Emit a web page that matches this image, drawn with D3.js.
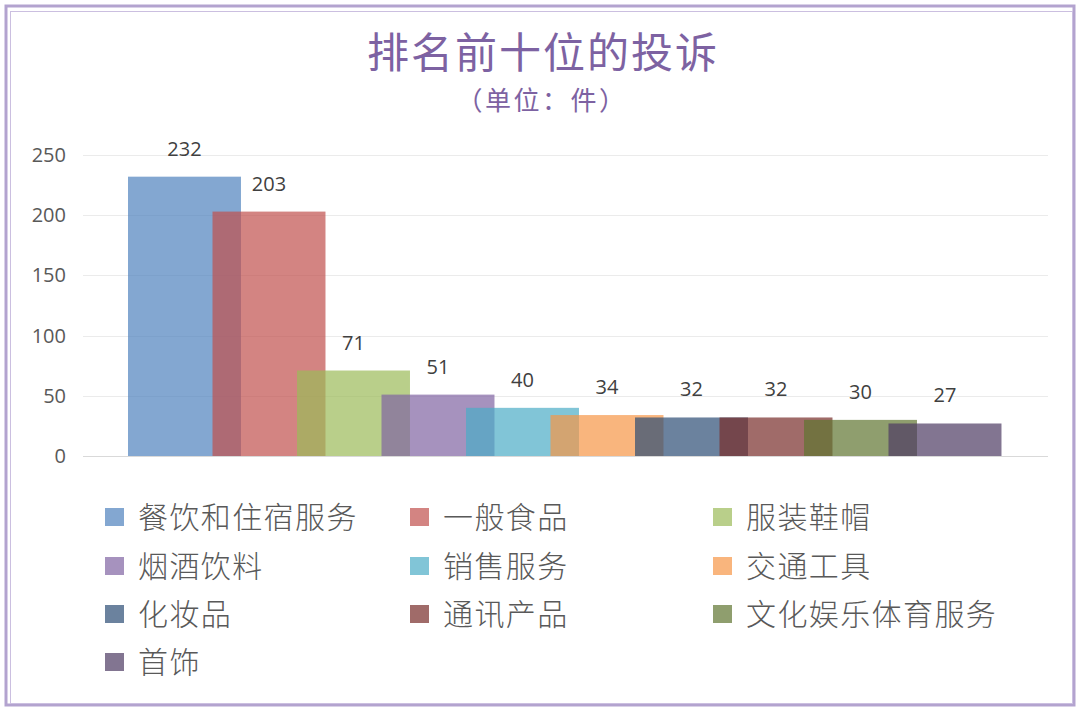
<!DOCTYPE html>
<html><head><meta charset="utf-8">
<script src="https://cdn.jsdelivr.net/npm/d3@7/dist/d3.min.js"></script>
<style>body{margin:0;background:#fff}svg{display:block}</style>
</head><body>
<svg id="c" width="1078" height="708"></svg>
<script>
const categories = ["餐饮和住宿服务","一般食品","服装鞋帽","烟酒饮料","销售服务","交通工具","化妆品","通讯产品","文化娱乐体育服务","首饰"];
const values = [232,203,71,51,40,34,32,32,30,27];
const colors = ["#4F81BD","#C0504D","#9BBB59","#8064A2","#4BACC6","#F79646","#2C4D75","#772C2A","#5F7530","#4D3B62"];
const yTicks = [0,50,100,150,200,250];
const title = "排名前十位的投诉";
const subtitle = "（单位：件）";

const svg = d3.select("#c");
const cjk = "'Noto Sans CJK SC','Noto Sans',sans-serif";
const lat = "'Open Sans','Liberation Sans',sans-serif";

// frame
svg.append("rect").attr("x",6).attr("y",6).attr("width",1068).attr("height",699)
  .attr("fill","none").attr("stroke","#B3A3CF").attr("stroke-width",3);
svg.append("rect").attr("x",10.5).attr("y",11.5).attr("width",1062).attr("height",692)
  .attr("fill","none").attr("stroke","#CBBFE0").attr("stroke-width",1);

// titles
svg.append("text").attr("x",543).attr("y",68).attr("text-anchor","middle")
  .attr("font-family",cjk).attr("font-size",42).attr("letter-spacing",2)
  .attr("fill","#7D62A2").text(title);
svg.append("text").attr("x",542).attr("y",110).attr("text-anchor","middle")
  .attr("font-family",cjk).attr("font-size",26).attr("letter-spacing",2.5)
  .attr("fill","#7D62A2").text(subtitle);

// scales
const y = d3.scaleLinear().domain([0,250]).range([456,155]);
const x = d3.scaleBand().domain(categories).range([128,128+10*84.5]).padding(0);
const bw = x.step()*1.337;

// grid
svg.append("g").selectAll("line").data(yTicks).join("line")
  .attr("x1",83).attr("x2",1048).attr("y1",d=>Math.round(y(d))+0.5).attr("y2",d=>Math.round(y(d))+0.5)
  .attr("stroke",d=>d===0?"#D9D9D9":"#EBEBEB").attr("stroke-width",1.2);

// y axis labels
const yAxis = d3.axisLeft(y).tickValues(yTicks).tickSize(0).tickPadding(0);
const ga = svg.append("g").attr("transform","translate(66,0)").call(yAxis);
ga.select(".domain").remove();
ga.selectAll("text").attr("font-family",lat).attr("font-size",20).attr("fill","#595959");

// bars
svg.append("g").selectAll("rect").data(categories).join("rect")
  .attr("x",d=>x(d)).attr("y",(d,i)=>y(values[i]))
  .attr("width",bw).attr("height",(d,i)=>y(0)-y(values[i]))
  .attr("fill",(d,i)=>colors[i]).attr("fill-opacity",0.7);

// value labels
svg.append("g").selectAll("text").data(categories).join("text")
  .attr("x",d=>x(d)+bw/2).attr("y",(d,i)=>y(values[i])-21)
  .attr("text-anchor","middle").attr("font-family",lat).attr("font-size",20)
  .attr("fill","#404040").text((d,i)=>values[i]);

// legend
const colX = [105,410,713];
const rowY = [517,566,614,662];
const lg = svg.append("g").selectAll("g").data(categories).join("g")
  .attr("transform",(d,i)=>`translate(${colX[i%3]},${rowY[Math.floor(i/3)]})`);
lg.append("rect").attr("x",0).attr("y",-9).attr("width",19).attr("height",18)
  .attr("fill",(d,i)=>colors[i]).attr("fill-opacity",0.7);
lg.append("text").attr("x",33).attr("y",0).attr("dy","0.36em")
  .attr("font-family",cjk).attr("font-size",30).attr("font-weight",300).attr("letter-spacing",1.4)
  .attr("fill","#595959").text(d=>d);
</script>
</body></html>
